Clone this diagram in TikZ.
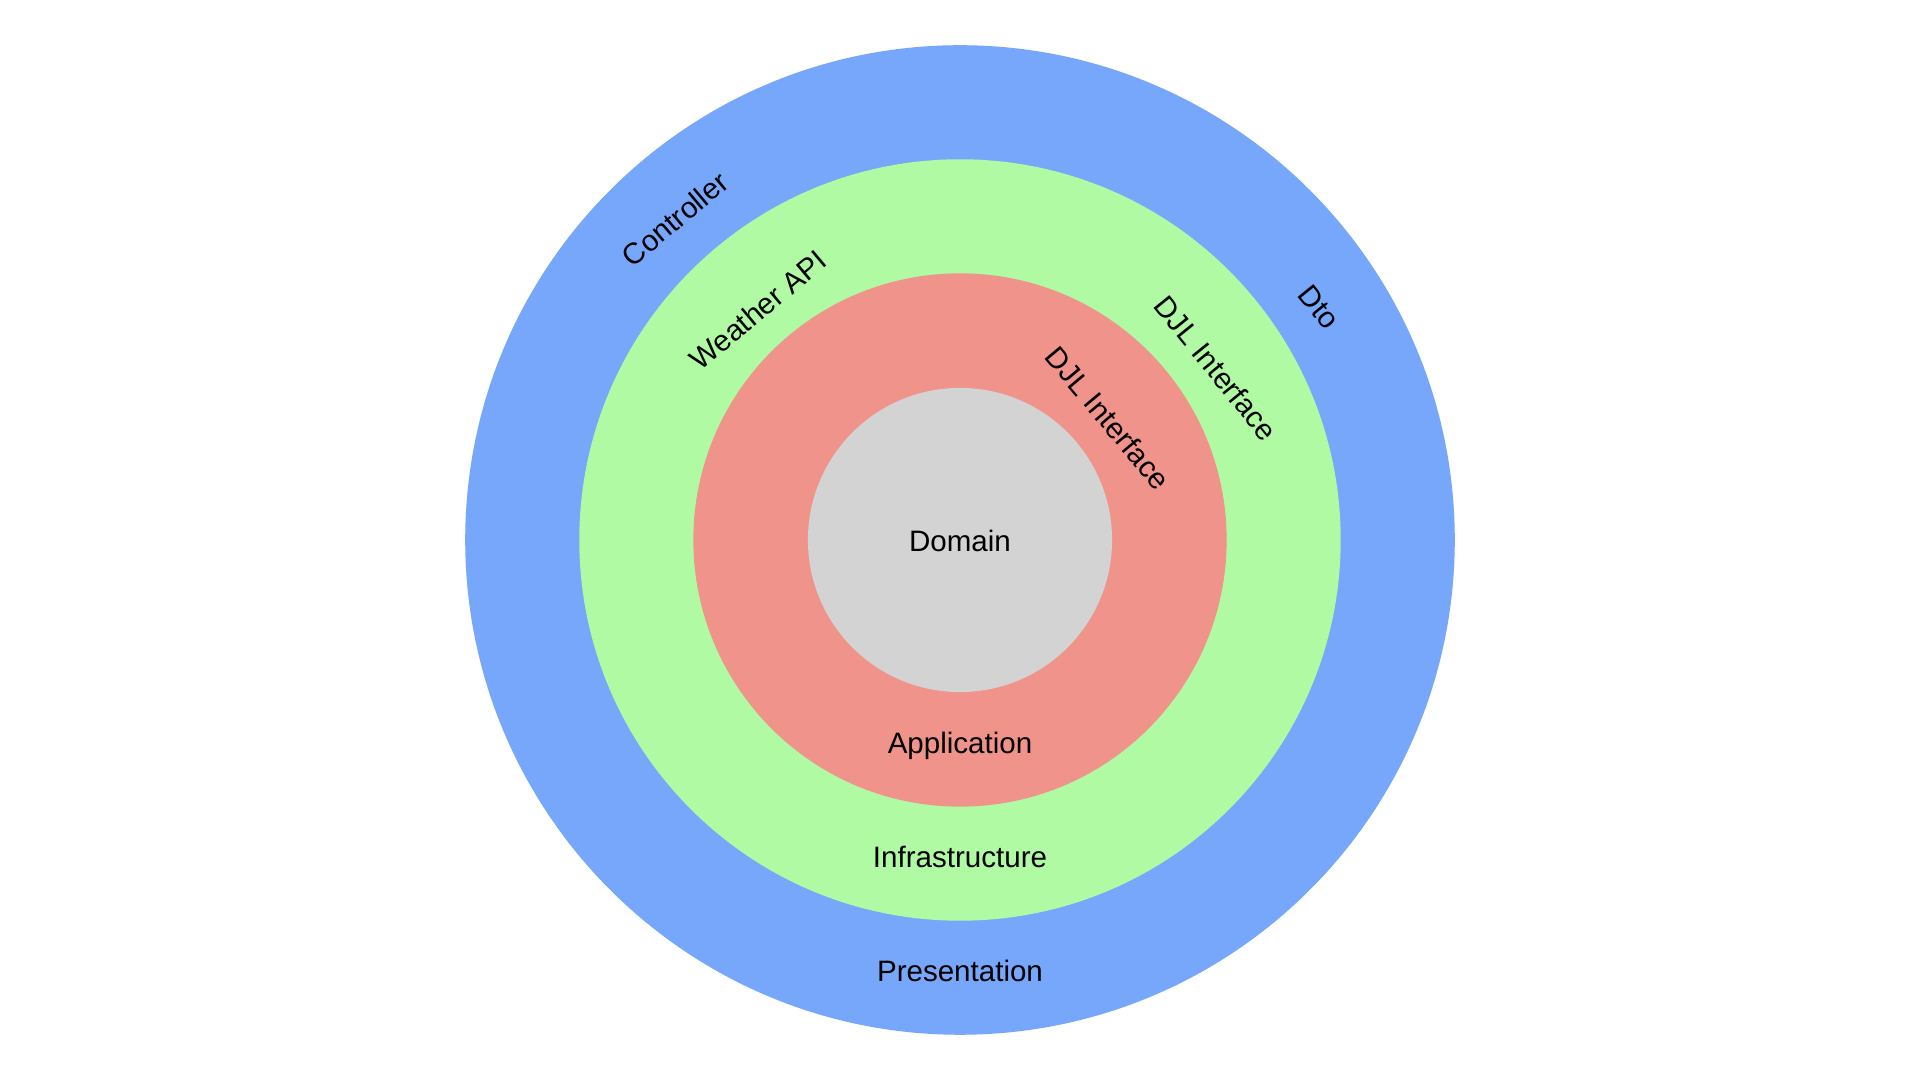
\documentclass[tikz,border=0pt]{standalone}
\usepackage{fontspec}
\setmainfont{Liberation Sans}
\definecolor{presblue}{HTML}{76A7FA}
\definecolor{infragreen}{HTML}{B0FAA4}
\definecolor{appred}{HTML}{F0938A}
\definecolor{domgray}{HTML}{D3D3D3}
\begin{document}
\begin{tikzpicture}[x=0.01cm,y=-0.01cm]
    % Define styles
    \tikzstyle{layer}=[circle,draw=none,inner sep=0pt]
    \tikzstyle{lbl}=[font=\fontsize{8.4}{10}\selectfont,inner sep=0pt]

    \useasboundingbox[fill=white] (0,0) rectangle (1920,1080);

    % Draw the layers
    \node[layer,fill=presblue,minimum size=9.89cm] (presentation) at (960,540) {};
    \node[layer,fill=infragreen,minimum size=7.61cm] (infrastructure) at (960,540) {};
    \node[layer,fill=appred,minimum size=5.33cm] (application) at (960,540) {};
    \node[layer,fill=domgray,minimum size=3.04cm] (domain) at (960,540) {};

    % Add the layer names
    \node[lbl] (lbldomain) at (960,541) {Domain};
    \node[lbl] (lblapplication) at (960,746) {Application};
    \node[lbl] (lblinfrastructure) at (960,857) {Infrastructure};
    \node[lbl] (lblpresentation) at (960,971) {Presentation};

    % Add the parts
    \node[lbl,rotate=40] (lblcontroller) at (675,219) {Controller};
    \node[lbl,rotate=40] (lblweather) at (758,310) {Weather API};
    \node[lbl,rotate=-51] (lbldto) at (1319,307) {Dto};
    \node[lbl,rotate=-51] (lbldjlouter) at (1216,368) {DJL Interface};
    \node[lbl,rotate=-50] (lbldjlinner) at (1108,418) {DJL Interface};
\end{tikzpicture}
\end{document}
